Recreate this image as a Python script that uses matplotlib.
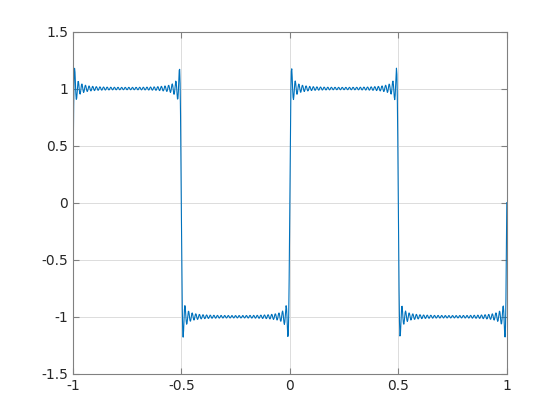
import numpy as np
import matplotlib
matplotlib.use("Agg")
import matplotlib.pyplot as plt

# Fourier square-wave partial sum (period 1)
harmonics = list(range(1, 60, 2))          # odd harmonics 1..59
amplitudes = [4 / (np.pi * n) for n in harmonics]
n_samples = 1000
x_range = (-1, 1)

xticks = [-1, -0.5, 0, 0.5, 1]
xticklabels = ["-1", "-0.5", "0", "0.5", "1"]
yticks = [-1.5, -1, -0.5, 0, 0.5, 1, 1.5]
yticklabels = ["-1.5", "-1", "-0.5", "0", "0.5", "1", "1.5"]

x = np.linspace(x_range[0], x_range[1], n_samples)
y = np.zeros_like(x)
for n, a in zip(harmonics, amplitudes):
    y += a * np.sin(2 * np.pi * n * x)

fig = plt.figure(figsize=(5.6, 4.2), dpi=100)
ax = fig.add_axes([0.13, 0.11, 0.775, 0.815])
ax.plot(x, y, color="#0072BD", linewidth=0.8)
ax.set_xlim(-1, 1)
ax.set_ylim(-1.5, 1.5)
ax.set_xticks(xticks)
ax.set_xticklabels(xticklabels)
ax.set_yticks(yticks)
ax.set_yticklabels(yticklabels)
ax.grid(True, color="#dcdcdc", linewidth=0.7)
ax.set_axisbelow(True)
for s in ax.spines.values():
    s.set_color("#808080")
    s.set_linewidth(0.8)
ax.tick_params(direction="in", top=True, right=True, colors="#808080",
               labelcolor="#262626", labelsize=10, length=4, width=0.8)
fig.savefig("out.png", dpi=100)
